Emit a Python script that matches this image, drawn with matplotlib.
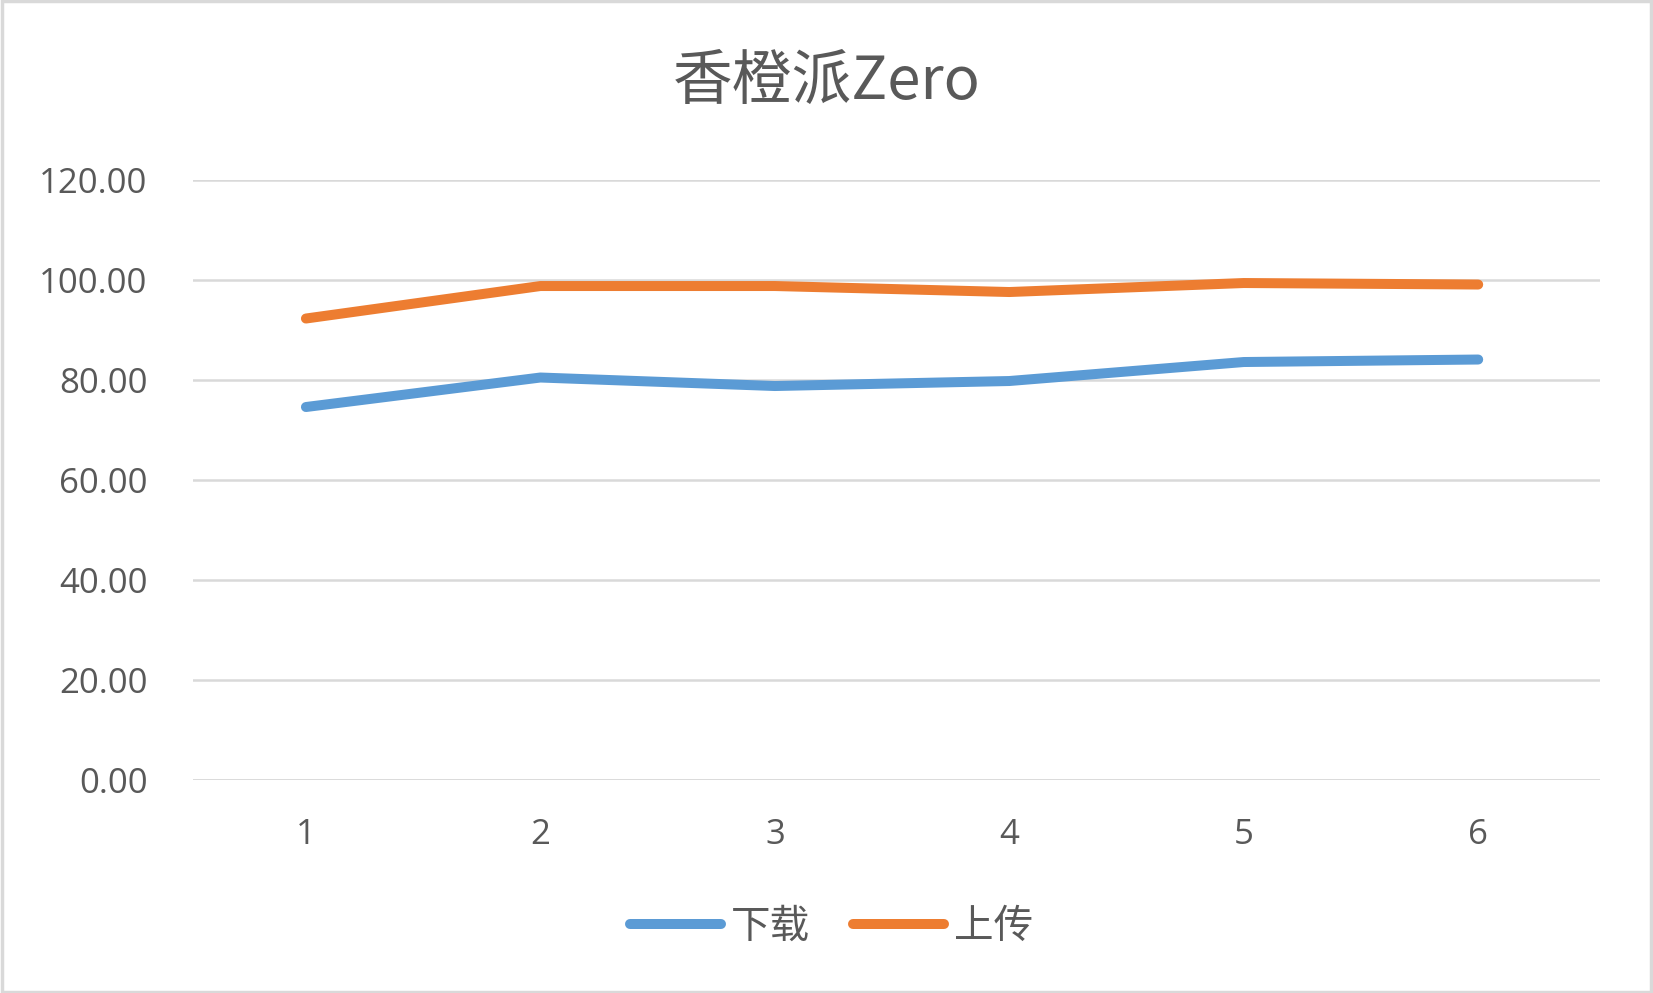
import matplotlib
matplotlib.use("Agg")
import matplotlib.pyplot as plt
from matplotlib.patches import Rectangle

plt.rcParams['font.family'] = ['Open Sans', 'Noto Sans CJK SC', 'DejaVu Sans']

title = "香橙派Zero"
categories = [1, 2, 3, 4, 5, 6]
download = [74.6, 80.5, 78.8, 79.8, 83.6, 84.1]
upload = [92.3, 98.8, 98.8, 97.6, 99.4, 99.1]
series_names = ["下载", "上传"]
yticks = [0, 20, 40, 60, 80, 100, 120]

text_color = "#595959"
grid_color = "#d9d9d9"
blue = "#5b9bd5"
orange = "#ed7d31"

fig = plt.figure(figsize=(16.53, 9.93), dpi=100)
ax = fig.add_axes([0.117, 0.2145, 0.851, 0.6042])

ax.plot(categories, download, color=blue, lw=7.2, solid_capstyle='round',
        solid_joinstyle='round', label=series_names[0], zorder=3)
ax.plot(categories, upload, color=orange, lw=7.2, solid_capstyle='round',
        solid_joinstyle='round', label=series_names[1], zorder=3)

ax.set_xlim(0.52, 6.52)
ax.set_ylim(0, 120)
ax.set_yticks(yticks)
ax.set_yticklabels([f"{v:.2f}" for v in yticks])
ax.set_xticks(categories)
ax.set_xticklabels([str(c) for c in categories])
ax.yaxis.grid(True, color=grid_color, lw=1.8)
ax.set_axisbelow(True)
for s in ax.spines.values():
    s.set_visible(False)
ax.tick_params(axis='both', length=0, labelsize=25, colors=text_color)
ax.tick_params(axis='y', pad=33)
ax.tick_params(axis='x', pad=27)
ax.axhline(0, color=grid_color, lw=1.8, zorder=1)

fig.text(0.5, 0.917, title, ha='center', va='center', fontsize=43, color=text_color,
         family=['Noto Sans CJK SC', 'DejaVu Sans'])

leg = fig.legend(loc='center', bbox_to_anchor=(0.503, 0.067), ncol=2, frameon=False,
                 handlelength=2.3, handletextpad=0.25, columnspacing=1.1,
                 prop={'family': ['Noto Sans CJK SC', 'DejaVu Sans'], 'size': 28.5})
for t in leg.get_texts():
    t.set_color(text_color)

fig.patches.append(Rectangle((0.001, 0.001), 0.998, 0.998, transform=fig.transFigure,
                             fill=False, edgecolor=grid_color, lw=2.5))

fig.savefig("out.png", dpi=100, facecolor="white")
